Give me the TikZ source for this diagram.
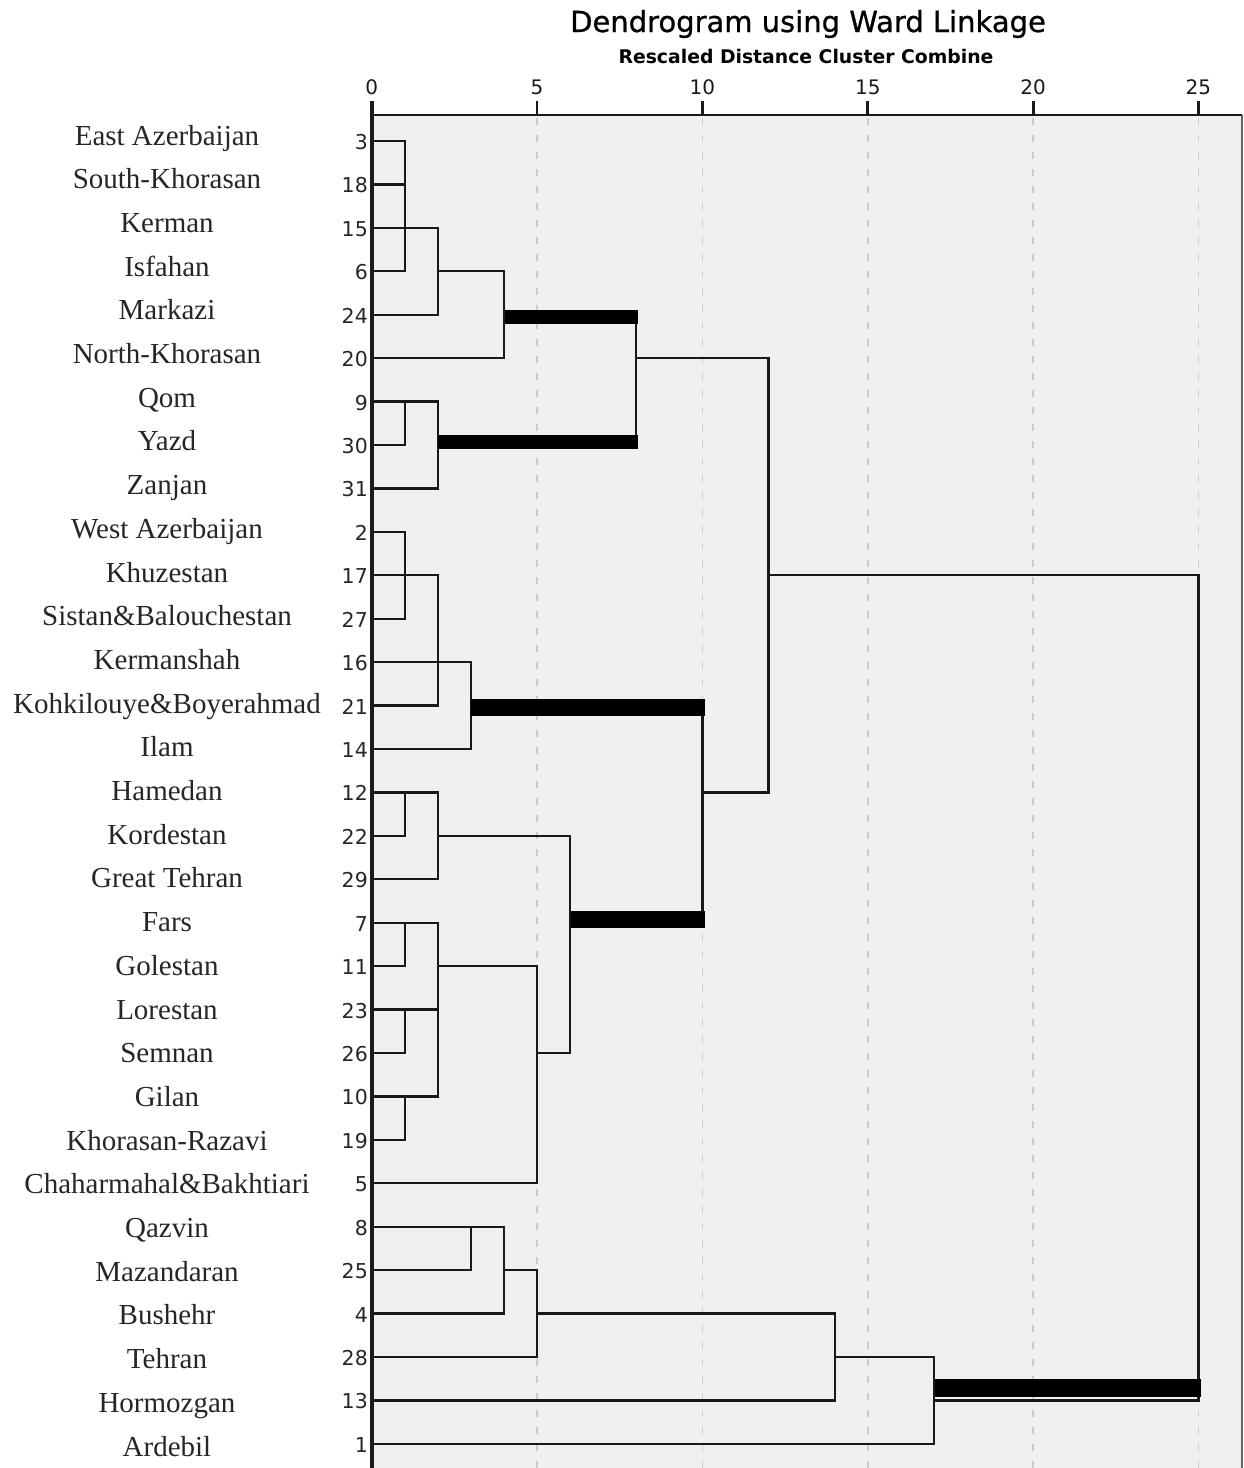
\documentclass[tikz,border=0pt]{standalone}
\usepackage{fontspec}
\setmainfont{Liberation Serif}
\newfontfamily\djv{DejaVu Sans}
\newfontfamily\djvt[FakeBold=0.8]{DejaVu Sans}
\definecolor{bgc}{HTML}{F0F0F0}
\definecolor{gridc}{HTML}{CBCBCB}
\definecolor{axc}{HTML}{1A1A1A}
\begin{document}
\begin{tikzpicture}[x=1pt,y=-1pt,
  lnk/.style={line width=2.3pt, black!90, line cap=rect},
  thickbar/.style={fill=black, draw=none},
  gridln/.style={gridc, line width=1.8pt, dash pattern=on 7pt off 10pt},
  nm/.style={anchor=base, inner sep=0pt, font=\fontsize{29}{29}\selectfont, text=black!85},
  num/.style={anchor=base east, inner sep=0pt, font=\djv\fontsize{20.5}{20.5}\selectfont, text=black!85},
  ticklbl/.style={anchor=base, inner sep=0pt, font=\djv\fontsize{20}{20}\selectfont, text=black!90},
  axisln/.style={axc, line width=2.8pt},
]
\useasboundingbox (0,0) rectangle (1243,1468);
% plot area
\fill[bgc] (372,115) rectangle (1242,1468);
\foreach \u in {5,10,...,25}
  \draw[gridln] ({371.7+33.07*\u},118) -- ({371.7+33.07*\u},1468);
% titles
\node[anchor=base, inner sep=0pt, font=\djvt\fontsize{29}{29}\selectfont] (title) at (808,32) {Dendrogram using Ward Linkage};
\node[anchor=base, inner sep=0pt, font=\djv\bfseries\fontsize{18.8}{18.8}\selectfont] (subtitle) at (806,63) {Rescaled Distance Cluster Combine};
% dendrogram
\begin{scope}[shift={(371.7,141)}, x=33.07pt, y=-43.43pt]
  \foreach \i/\e in {0/1,1/1,2/2,3/1,4/2,5/4,6/2,7/1,8/2,9/1,10/2,11/1,12/3,13/2,14/3,15/2,16/1,17/2,18/2,19/1,20/2,21/1,22/2,23/1,24/5,25/4,26/3,27/4,28/5,29/14,30/17}
    \draw[lnk] (0,\i) -- (\e,\i);
  \foreach \u/\a/\b in {1/0/3, 2/2/4, 4/3/5, 8/4/7, 12/5/15, 1/6/7, 2/6/8, 1/9/11, 2/10/13, 3/12/14, 10/13/18, 1/15/16, 2/15/17, 6/16/21, 1/18/19, 1/20/21, 1/22/23, 2/18/22, 5/19/24, 3/25/26, 4/25/27, 5/26/28, 14/27/29, 17/28/30, 25/10/29}
    \draw[lnk] (\u,\a) -- (\u,\b);
  \foreach \i/\s/\e in {3/2/4, 4/4/8, 7/2/8, 5/8/12, 10/12/25, 13/3/10, 15/10/12, 16/2/6, 18/6/10, 19/2/5, 21/5/6, 26/4/5, 27/5/14, 28/14/17, 29/17/25}
    \draw[lnk] (\s,\i) -- (\e,\i);
\end{scope}
% heavy links
\fill[thickbar] (505,310) rectangle (637.5,324);
\fill[thickbar] (438,435) rectangle (637.5,449);
\fill[thickbar] (471,699) rectangle (705,716);
\fill[thickbar] (570.5,911) rectangle (705,928);
\fill[thickbar] (935,1379) rectangle (1201,1397);
% axes
\draw[black!60, line width=1.6pt] (1242,115) -- (1242,1468);
\draw[axisln] (372,115) -- (1242,115);
\draw[axisln, line width=3.2pt] (372,101) -- (372,1468);
\foreach \u in {5,10,...,25}
  \draw[axisln] ({371.7+33.07*\u},101) -- ({371.7+33.07*\u},115);
\foreach \u in {0,5,...,25}
  \node[ticklbl] (t\u) at ({371.7+33.07*\u},94) {\u};
% leaf numbers
\foreach \n [count=\i from 0] in {3,18,15,6,24,20,9,30,31,2,17,27,16,21,14,12,22,29,7,11,23,26,10,19,5,8,25,4,28,13,1}
  \node[num] (r\i) at (368,{141+43.43*\i+8.5}) {\n};
% names
\foreach \n [count=\i from 0] in {East Azerbaijan, South-Khorasan, Kerman, Isfahan, Markazi, North-Khorasan, Qom, Yazd, Zanjan, West Azerbaijan, Khuzestan, Sistan\&Balouchestan, Kermanshah, Kohkilouye\&Boyerahmad, Ilam, Hamedan, Kordestan, Great Tehran, Fars, Golestan, Lorestan, Semnan, Gilan, Khorasan-Razavi, Chaharmahal\&Bakhtiari, Qazvin, Mazandaran, Bushehr, Tehran, Hormozgan, Ardebil}
  \node[nm] (n\i) at (167,{145+43.7*\i}) {\n};
\end{tikzpicture}
\end{document}
